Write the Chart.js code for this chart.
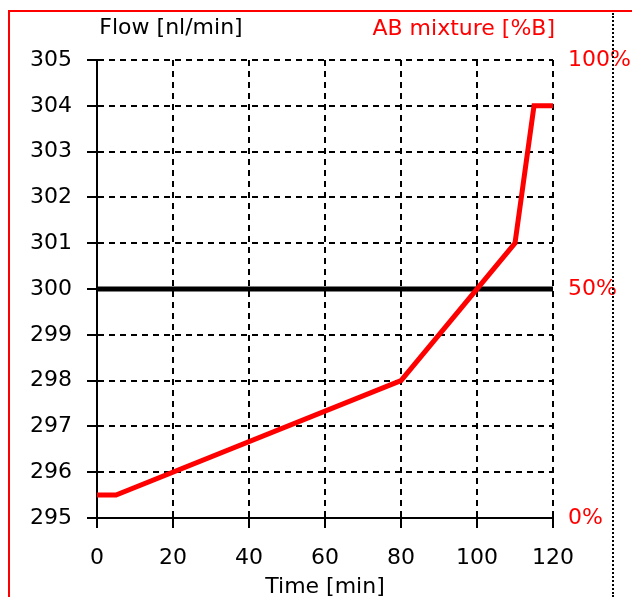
<!DOCTYPE html>
<html><head><meta charset="utf-8">
<script src="https://cdn.jsdelivr.net/npm/chart.js@4/dist/chart.umd.min.js"></script>
<style>
html,body{margin:0;padding:0;background:#fff;width:632px;height:597px;overflow:hidden;}
#wrap{position:relative;width:632px;height:597px;}
canvas{position:absolute;left:0;top:0;}
#frame{position:absolute;left:8px;top:10px;right:0;bottom:0;border-top:2px solid #f00;border-left:2px solid #f00;}
#dots{position:absolute;left:612px;top:13px;bottom:0;border-left:2px dotted #000;}
</style></head><body>
<div id="wrap"><div id="frame"></div><canvas id="c" width="632" height="597"></canvas><div id="dots"></div></div>
<script>
// Data
const mixTime = [0, 5, 80, 110, 115, 120];          // min
const mixturePctB = [5, 5, 30, 60, 90, 90];          // %B
const flowTime = [0, 120];                           // min
const flowNlMin = [300, 300];                        // nl/min
const flowAxisRange = [295, 305];
const mixAxisRange = [0, 100];
const timeRange = [0, 120];

const FONT = '"DejaVu Sans", sans-serif';

const titles = {
  id: 'titles',
  afterDraw(chart) {
    const ctx = chart.ctx, ca = chart.chartArea;
    ctx.save();
    ctx.font = '22px ' + FONT;
    ctx.textBaseline = 'middle';
    ctx.fillStyle = '#000';
    ctx.textAlign = 'center';
    ctx.fillText('Flow [nl/min]', ca.left + 74, 28);
    ctx.fillText('Time [min]', (ca.left + ca.right) / 2, 587);
    ctx.fillStyle = '#f00';
    ctx.textAlign = 'right';
    ctx.fillText('AB mixture [%B]', ca.right + 2, 29);
    ctx.restore();
  }
};

const gridOpts = { color: '#000', lineWidth: 2, tickLength: 10, tickBorderDash: [], tickColor: '#000', tickWidth: 2 };
const borderOpts = { display: true, color: '#000', width: 2, dash: [6, 5] };

new Chart(document.getElementById('c'), {
  type: 'line',
  data: {
    datasets: [
      {
        label: 'AB mixture [%B]',
        data: mixTime.map((t, i) => ({ x: t, y: mixturePctB[i] })),
        yAxisID: 'y2',
        borderColor: '#f00',
        borderWidth: 5,
        pointRadius: 0,
        tension: 0,
        borderJoinStyle: 'miter',
        fill: false
      },
      {
        label: 'Flow [nl/min]',
        data: flowTime.map((t, i) => ({ x: t, y: flowNlMin[i] })),
        yAxisID: 'y',
        borderColor: '#000',
        borderWidth: 5,
        pointRadius: 0,
        tension: 0,
        fill: false
      }
    ]
  },
  options: {
    responsive: false,
    animation: false,
    devicePixelRatio: 1,
    layout: { padding: { top: 60, left: 0, right: 0, bottom: 0 } },
    plugins: { legend: { display: false }, tooltip: { enabled: false }, title: { display: false } },
    scales: {
      x: {
        type: 'linear',
        min: timeRange[0], max: timeRange[1],
        ticks: { stepSize: 20, color: '#000', font: { family: FONT, size: 22 }, padding: 17, maxRotation: 0 },
        grid: gridOpts,
        border: borderOpts,
        afterFit(s) { s.height = 79; }
      },
      y: {
        position: 'left',
        min: flowAxisRange[0], max: flowAxisRange[1],
        ticks: { stepSize: 1, color: '#000', font: { family: FONT, size: 22 }, padding: 15 },
        grid: gridOpts,
        border: borderOpts,
        afterFit(s) { s.width = 97; }
      },
      y2: {
        position: 'right',
        min: mixAxisRange[0], max: mixAxisRange[1],
        ticks: { stepSize: 50, color: '#f00', font: { family: FONT, size: 22 }, padding: 15, callback: v => v + '%' },
        grid: { display: false, drawTicks: false },
        border: { display: false },
        afterFit(s) { s.width = 79; }
      }
    }
  },
  plugins: [titles]
});
</script>
</body></html>
